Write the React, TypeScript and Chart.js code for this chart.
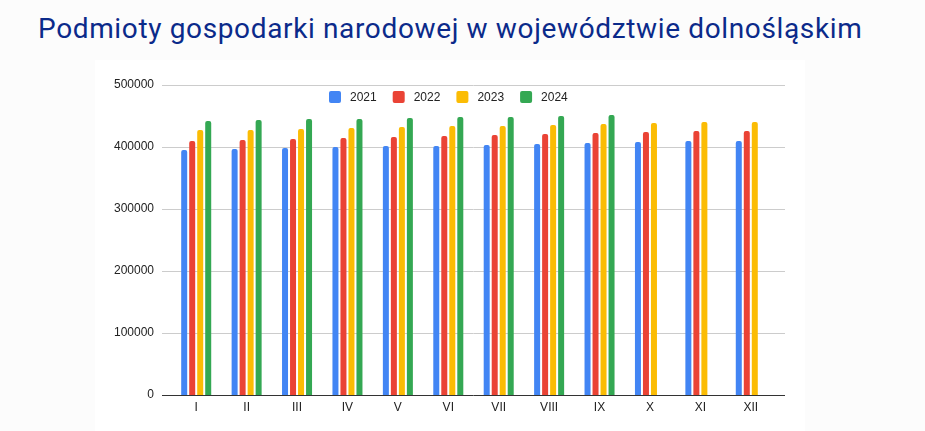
import React, { useEffect, useRef } from "react";
import { Chart, registerables } from "chart.js";

Chart.register(...registerables);

const TITLE = "Podmioty gospodarki narodowej w województwie dolnośląskim";
const months = ["I", "II", "III", "IV", "V", "VI", "VII", "VIII", "IX", "X", "XI", "XII"];
const years = ["2021", "2022", "2023", "2024"];
const v2021 = [395200, 396800, 398400, 400000, 401600, 401600, 403200, 404800, 406500, 408100, 409700, 409700];
const v2022 = [409700, 411300, 412900, 414500, 416100, 417700, 419400, 421000, 422600, 424200, 425800, 425800];
const v2023 = [427400, 427400, 429000, 430600, 432300, 433900, 433900, 435500, 437100, 438700, 440300, 440300];
const v2024 = [441900, 443500, 445200, 445200, 446800, 448400, 448400, 450000, 451600, null, null, null];
const colors = ["#4285F4", "#EA4335", "#FBBC04", "#34A853"];
const yTicks = [0, 100000, 200000, 300000, 400000, 500000];

const FONT = "Arial, 'Liberation Sans', sans-serif";

const gridPlugin = {
  id: "gridExt",
  beforeDatasetsDraw(chart: any) {
    const { ctx, chartArea, scales } = chart;
    const y = scales.y;
    ctx.save();
    ctx.lineWidth = 1;
    ctx.strokeStyle = "#cccccc";
    y.ticks.forEach((t: any) => {
      if (t.value === 0) return;
      const py = Math.round(y.getPixelForValue(t.value)) + 0.5;
      ctx.beginPath();
      ctx.moveTo(chartArea.left - 9, py);
      ctx.lineTo(chartArea.right + 9, py);
      ctx.stroke();
    });
    ctx.restore();
  },
  afterDatasetsDraw(chart: any) {
    const { ctx, chartArea, scales } = chart;
    const py = Math.round(scales.y.getPixelForValue(0)) + 0.5;
    ctx.save();
    ctx.lineWidth = 1;
    ctx.strokeStyle = "#333333";
    ctx.beginPath();
    ctx.moveTo(chartArea.left - 9, py);
    ctx.lineTo(chartArea.right + 9, py);
    ctx.stroke();
    ctx.restore();
  },
};

const legendPlugin = {
  id: "legendCustom",
  afterDraw(chart: any) {
    const { ctx, chartArea } = chart;
    ctx.save();
    ctx.font = "12px " + FONT;
    ctx.textBaseline = "middle";
    let x = chartArea.left + 158;
    const cy = chartArea.top + 12;
    chart.data.datasets.forEach((ds: any) => {
      ctx.fillStyle = ds.backgroundColor;
      ctx.beginPath();
      (ctx as any).roundRect(x, cy - 6, 12, 12, 2);
      ctx.fill();
      x += 12 + 9;
      ctx.fillStyle = "#222222";
      ctx.fillText(ds.label, x, cy + 0.5);
      x += ctx.measureText(ds.label).width + 16;
    });
    ctx.restore();
  },
};

export default function App() {
  const ref = useRef<HTMLCanvasElement | null>(null);

  useEffect(() => {
    if (!ref.current) return;
    const series = [v2021, v2022, v2023, v2024];
    const chart = new Chart(ref.current, {
      type: "bar",
      data: {
        labels: months,
        datasets: years.map((y, i) => ({
          label: y,
          data: series[i],
          backgroundColor: colors[i],
          borderRadius: 2,
          categoryPercentage: 0.635,
          barPercentage: 0.75,
        })),
      },
      options: {
        animation: false,
        responsive: false,
        maintainAspectRatio: false,
        layout: { padding: { top: 25, right: 29, bottom: 0, left: 0 } },
        plugins: {
          legend: { display: false },
          tooltip: { enabled: false },
          title: { display: false },
        },
        scales: {
          x: {
            offset: true,
            grid: { display: false, drawTicks: false },
            border: { display: false },
            ticks: { color: "#222222", font: { size: 12, family: FONT }, padding: 5, maxRotation: 0 },
            afterFit: (s: any) => { s.height = 36; },
          },
          y: {
            min: 0,
            max: 500000,
            afterBuildTicks: (s: any) => { s.ticks = yTicks.map((v) => ({ value: v })); },
            grid: { display: false, drawTicks: false },
            border: { display: false },
            ticks: {
              color: "#222222",
              font: { size: 12, family: FONT },
              padding: 17,
              callback: (v: any) => String(v),
            },
            afterFit: (s: any) => { s.width = 76; },
          },
        },
      },
      plugins: [gridPlugin, legendPlugin],
    });
    return () => chart.destroy();
  }, []);

  return (
    <div style={{ position: "fixed", left: 0, top: 0, width: 925, height: 431, background: "#fcfcfc", overflow: "hidden" }}>
      <div
        style={{
          position: "absolute",
          left: 38,
          top: 11,
          fontFamily: "Roboto, 'Noto Sans', sans-serif",
          fontSize: 28,
          lineHeight: "36px",
          letterSpacing: "0.64px",
          color: "#0b2a8a",
          whiteSpace: "nowrap",
        }}
      >
        {TITLE}
      </div>
      <div style={{ position: "absolute", left: 95, top: 60, width: 710, height: 371, background: "#ffffff" }}>
        <canvas ref={ref} width={710} height={371} style={{ display: "block" }} />
      </div>
    </div>
  );
}
